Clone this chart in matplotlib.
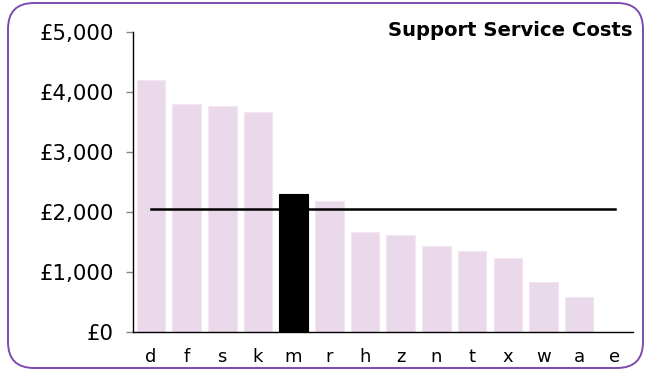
import matplotlib.pyplot as plt
from matplotlib.patches import FancyBboxPatch
from matplotlib.ticker import FuncFormatter

# support service costs per area, highlighted area drawn in black
areas = ['d', 'f', 's', 'k', 'm', 'r', 'h', 'z', 'n', 't', 'x', 'w', 'a', 'e']
costs = [4200, 3800, 3770, 3660, 2300, 2190, 1670, 1620, 1440, 1360, 1240, 840, 580, 0]
highlight = 'm'
average = 2048

bar_col = '#EAD9EA'
edge_col = '#F2E6F2'
frame_col = '#7E4BB0'

fig = plt.figure(figsize=(6.5, 3.72), dpi=100)

# rounded purple frame around the whole chart
frame = FancyBboxPatch((8 / 650, 4 / 372), 635 / 650, 365 / 372,
                       boxstyle='round,pad=0,rounding_size=0.04',
                       transform=fig.transFigure, facecolor='white',
                       edgecolor=frame_col, linewidth=1.4, mutation_aspect=650 / 372,
                       zorder=-10)
fig.add_artist(frame)

ax = fig.add_axes([0.2046, 0.1067, 0.7688, 0.8081])
ax.patch.set_alpha(0)

x = list(range(len(areas)))
colors = ['black' if a == highlight else bar_col for a in areas]
edges = ['black' if a == highlight else edge_col for a in areas]
ax.bar(x, costs, width=0.8, color=colors, edgecolor=edges, linewidth=0.8, zorder=2)
ax.plot([x[0], x[-1]], [average, average], color='black', linewidth=1.8, zorder=3)

ax.set_xlim(-0.5, len(areas) - 0.5)
ax.set_ylim(0, 5000)
ax.set_yticks(range(0, 5001, 1000))
ax.yaxis.set_major_formatter(FuncFormatter(lambda v, p: f'£{int(v):,}'))
ax.set_xticks(x)
ax.set_xticklabels(areas)

for s in ['top', 'right']:
    ax.spines[s].set_visible(False)
ax.spines['left'].set_linewidth(1.0)
ax.spines['bottom'].set_linewidth(1.0)
ax.tick_params(axis='y', length=5, width=1, color='#888888', labelsize=15.3, pad=9)
ax.tick_params(axis='x', length=0, labelsize=13, pad=11)

fig.text(632 / 650, 1 - 30 / 372, 'Support Service Costs', ha='right', va='center',
         fontsize=14.1, fontweight='bold')

fig.savefig('out.png', dpi=100)
